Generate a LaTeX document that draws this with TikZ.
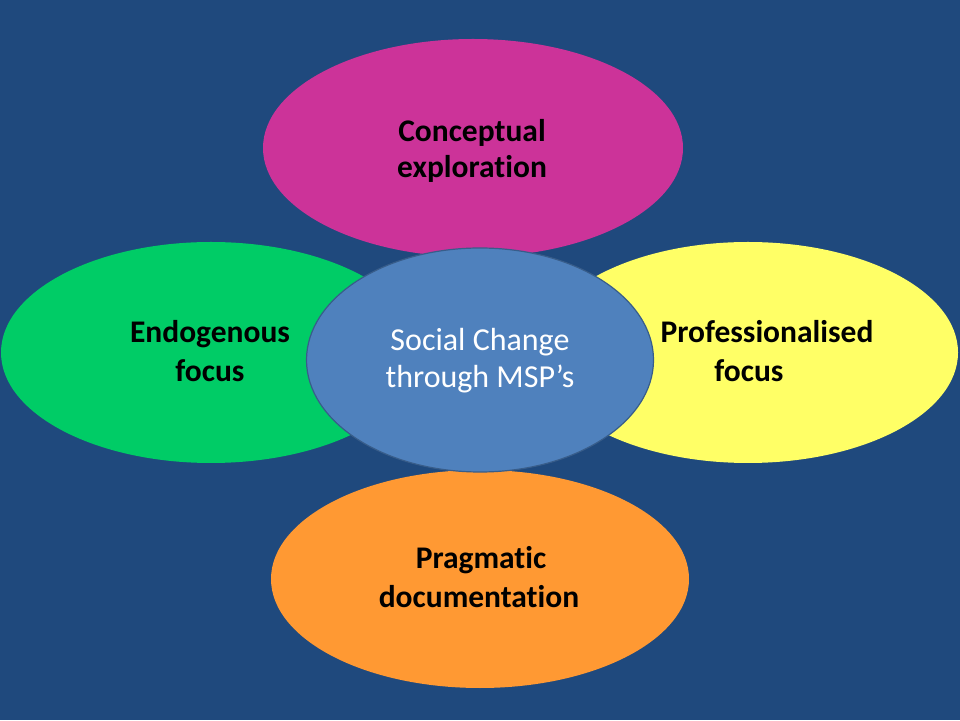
\documentclass[tikz,border=0pt]{standalone}
\usepackage{fontspec}
\setmainfont{Carlito}[Ligatures=NoCommon]
\usetikzlibrary{shapes.geometric}
\definecolor{bgblue}{RGB}{31,73,125}
\definecolor{cmag}{RGB}{204,51,153}
\definecolor{cgreen}{RGB}{0,204,102}
\definecolor{cyellow}{RGB}{255,255,102}
\definecolor{corange}{RGB}{255,153,51}
\definecolor{ccenter}{RGB}{79,129,189}
\definecolor{cedge}{RGB}{56,93,138}
\tikzset{
  petal/.style={ellipse, inner sep=0pt, outer sep=0pt, draw=none},
  lbl/.style={anchor=base, inner sep=0pt, font=\fontsize{31.5}{38}\selectfont\bfseries, text=black},
  clbl/.style={anchor=base, inner sep=0pt, font=\fontsize{32}{38}\selectfont, text=white}
}
\begin{document}
\begin{tikzpicture}[x=1pt,y=1pt]
\fill[bgblue] (0,0) rectangle (960,720);
\useasboundingbox (0,0) rectangle (960,720);
\node[petal, fill=cmag, minimum width=420pt, minimum height=218pt] (top) at (473,572) {};
\node[petal, fill=cgreen, minimum width=420pt, minimum height=221pt] (left) at (211,367.5) {};
\node[petal, fill=cyellow, minimum width=420pt, minimum height=221pt] (right) at (748,367.5) {};
\node[petal, fill=corange, minimum width=418pt, minimum height=218pt] (bottom) at (480,141) {};
\node[petal, fill=ccenter, draw=cedge, line width=1.2pt, minimum width=347pt, minimum height=224pt] (center) at (480,360) {};
\node[lbl] (t1) at (472,578) {Conceptual};
\node[lbl] (t2) at (472,542) {exploration};
\node[lbl] (l1) at (210,377) {Endogenous};
\node[lbl] (l2) at (210,338) {focus};
\node[lbl] (r1) at (767,377) {Professionalised};
\node[lbl] (r2) at (749,338) {focus};
\node[lbl] (b1) at (481,152) {Pragmatic};
\node[lbl] (b2) at (479,113) {documentation};
\node[clbl] (c1) at (480,369) {Social Change};
\node[clbl] (c2) at (480,332) {through MSP’s};
\end{tikzpicture}
\end{document}
